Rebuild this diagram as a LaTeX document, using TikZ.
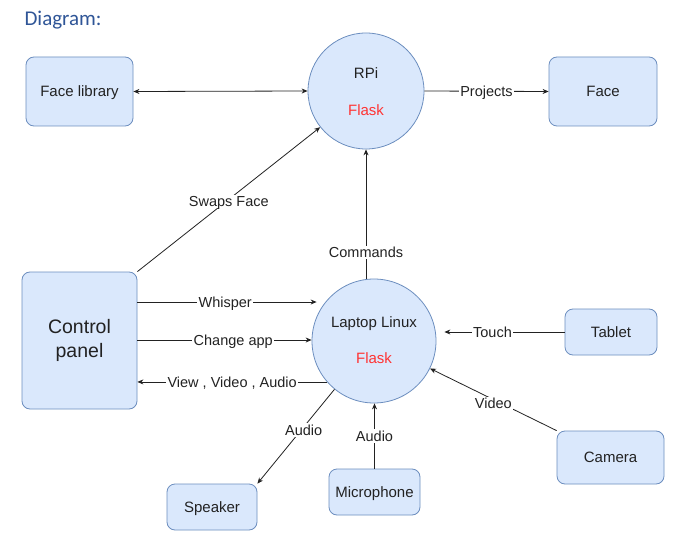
\documentclass[tikz,border=0pt]{standalone}
\usepackage{fontspec}
\setmainfont{Liberation Sans}
\newfontfamily\titlefont{Carlito}
\usetikzlibrary{arrows.meta}
\definecolor{boxfill}{HTML}{DAE8FC}
\definecolor{boxline}{HTML}{6C8EBF}
\definecolor{flaskred}{HTML}{FF3333}
\definecolor{titleblue}{HTML}{2F5597}
\definecolor{txt}{HTML}{222222}
\begin{document}
\begin{tikzpicture}[x=1pt,y=-1pt,
  box/.style={draw=boxline,fill=boxfill,rounded corners=8pt,line width=0.8pt,
    text=txt,font=\fontsize{15}{18}\selectfont,inner sep=0pt,text height=10.7pt,text depth=0pt},
  circ/.style={draw=boxline,fill=boxfill,circle,line width=0.8pt,inner sep=0pt},
  arr/.style={line width=0.8pt,draw=txt,-{Stealth[length=6pt,width=5pt]}},
  lbl/.style={fill=white,inner sep=1.5pt,text=txt,font=\fontsize{14.5}{17}\selectfont,text height=10.4pt,text depth=0pt},
  ctext/.style={text=txt,font=\fontsize{15}{18}\selectfont,text height=10.7pt,text depth=0pt}]
\useasboundingbox[fill=white] (0,0) rectangle (690,540);
\node[anchor=west,text=titleblue,font=\titlefont\fontsize{21}{24}\selectfont] (title) at (21,20) {Diagram:};
% nodes
\node[box,minimum width=107pt,minimum height=69pt] (flib) at (79.5,91.5) {Face library};
\node[circ,minimum size=116pt] (rpi) at (366,91) {};
\node[ctext] (rpilab) at (366,73) {RPi};
\node[ctext,text=flaskred] (rpiflask) at (366,110) {Flask};
\node[box,minimum width=108pt,minimum height=69pt] (face) at (603,91.5) {Face};
\node[box,minimum width=115pt,minimum height=137pt,font=\fontsize{19.5}{24}\selectfont,align=center,text height=,text depth=] (cp) at (79.5,340.5) {Control\\panel};
\node[circ,minimum size=124pt] (lap) at (374,341) {};
\node[ctext] (laplab) at (374,322) {Laptop Linux};
\node[ctext,text=flaskred] (lapflask) at (374,358) {Flask};
\node[box,minimum width=92pt,minimum height=46pt] (tab) at (611,332) {Tablet};
\node[box,minimum width=107pt,minimum height=53pt] (cam) at (610.5,457.5) {Camera};
\node[box,minimum width=91pt,minimum height=46pt] (mic) at (374.5,492) {Microphone};
\node[box,minimum width=90pt,minimum height=46pt] (spk) at (212,507) {Speaker};
% connectors
\draw[line width=0.8pt,draw=txt,{Stealth[length=6pt,width=5pt]}-{Stealth[length=6pt,width=5pt]}] (flib.east) -- (rpi.west);
\draw[arr] (rpi.east) -- node[lbl,pos=0.5] {Projects} (face.west);
\draw[arr] (cp.north east) -- node[lbl,pos=0.5,yshift=-2pt] {Swaps Face} (rpi);
\draw[arr] (rpi.south |- lap.north) -- node[lbl,pos=0.2] {Commands} (rpi.south);
\draw[arr] ([yshift=38.5pt]cp.east) -- node[lbl,pos=0.49] {Whisper} ([xshift=5pt,yshift=39pt]lap.west);
\draw[arr] ([yshift=0.5pt]cp.east) -- node[lbl,pos=0.55] {Change app} ([yshift=0.5pt]cp.east -| lap.west);
\draw[arr] (lap.221) -- node[lbl,pos=0.5] {View , Video , Audio} (lap.221 -| cp.east);
\draw[arr] (tab.west) -- node[lbl,pos=0.6] {Touch} ([xshift=8pt]tab.west -| lap.east);
\draw[arr] (cam.north west) -- node[lbl,pos=0.5,yshift=-4pt] {Video} (lap);
\draw[arr] (mic.north) -- node[lbl,pos=0.5] {Audio} (mic.north |- lap.south);
\draw[arr] (lap) -- node[lbl,pos=0.4,yshift=-3pt] {Audio} (spk.north east);
\end{tikzpicture}
\end{document}
